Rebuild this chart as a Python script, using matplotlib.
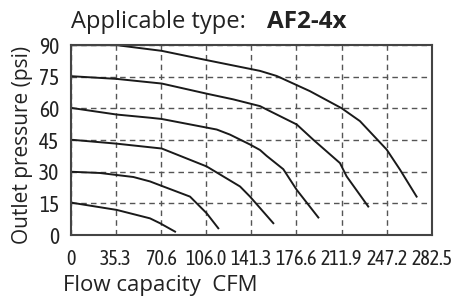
import numpy as np
import matplotlib.pyplot as plt

# tick positions / labels
x_ticks = [0, 35.3, 70.6, 106.0, 141.3, 176.6, 211.9, 247.2, 282.5]
x_labels = ["0", "35.3", "70.6", "106.0", "141.3", "176.6", "211.9", "247.2", "282.5"]
y_ticks = [0, 15, 30, 45, 60, 75, 90]

# flow curves, one per set pressure
flow_90 = [0, 36.1, 71.3, 106.4, 148.1, 161.1, 187.1, 211.9, 226.2, 247.1, 257.5, 270.5]
psi_90 = [90, 90, 87.3, 82.9, 77.8, 75.4, 68.2, 60.1, 54.0, 40.5, 31.0, 18.2]
flow_75 = [0, 36.1, 71.3, 106.4, 127.2, 148.1, 153.3, 176.8, 189.7, 210.6, 215.8, 232.7]
psi_75 = [75.3, 74.0, 71.8, 67.0, 64.3, 61.1, 59.5, 52.4, 45.2, 34.1, 27.8, 13.5]
flow_60 = [0, 36.1, 62.1, 71.3, 114.3, 124.6, 140.3, 148.1, 153.3, 166.3, 176.8, 193.7]
psi_60 = [60.3, 57.1, 55.6, 55.0, 50.0, 47.6, 42.9, 40.3, 37.5, 31.2, 21.4, 8.3]
flow_45 = [0, 36.1, 62.1, 71.3, 106.4, 132.5, 140.3, 158.5]
psi_45 = [45.2, 43.3, 41.6, 41.0, 32.5, 23.0, 18.2, 5.6]
flow_30 = [0, 23.0, 49.1, 62.1, 72.5, 93.4, 106.4, 115.5]
psi_30 = [30.0, 29.4, 27.5, 25.4, 23.0, 18.2, 10.3, 3.2]
flow_15 = [0, 36.1, 62.1, 69.9, 81.7]
psi_15 = [15.4, 11.9, 7.9, 5.6, 1.6]

curves = [(flow_90, psi_90), (flow_75, psi_75), (flow_60, psi_60),
          (flow_45, psi_45), (flow_30, psi_30), (flow_15, psi_15)]

cond = ['Asap Condensed', 'DejaVu Sans']
body = ['Open Sans', 'DejaVu Sans']

fig = plt.figure(figsize=(4.61, 2.99), dpi=100)
ax = fig.add_axes([0.153, 0.214, 0.784, 0.635])

for fx, fy in curves:
    ax.plot(fx, fy, color='#1a1a1a', lw=1.4, solid_joinstyle='round')

ax.set_xlim(0, 282.5)
ax.set_ylim(0, 90)
ax.set_xticks(x_ticks)
ax.set_xticklabels(x_labels, family=cond, fontsize=14.5)
ax.set_yticks(y_ticks)
ax.set_yticklabels([str(v) for v in y_ticks], family=cond, fontsize=15.5)
ax.tick_params(length=0, colors='#222222')
ax.tick_params(axis='x', pad=10)
ax.tick_params(axis='y', pad=8)
ax.grid(True, ls=(0, (4, 3)), color='#555555', lw=1)
for s in ax.spines.values():
    s.set_color('#444444')
    s.set_linewidth(1.5)

ax.set_ylabel('Outlet pressure (psi)', family=body, fontsize=15, color='#222222')
ax.yaxis.set_label_coords(-0.104, 0.476)
ax.set_xlabel('Flow capacity  CFM', family=body, fontsize=16, color='#222222')
ax.xaxis.set_label_coords(-0.02, -0.21)
ax.xaxis.label.set_ha('left')

fig.text(0.155, 0.926, 'Applicable type:', family=body, fontsize=17, color='#222222', va='center')
fig.text(0.58, 0.926, 'AF2-4x', family=body, fontsize=17.5, fontweight='bold', color='#222222', va='center')

fig.savefig('out.png', dpi=100)
